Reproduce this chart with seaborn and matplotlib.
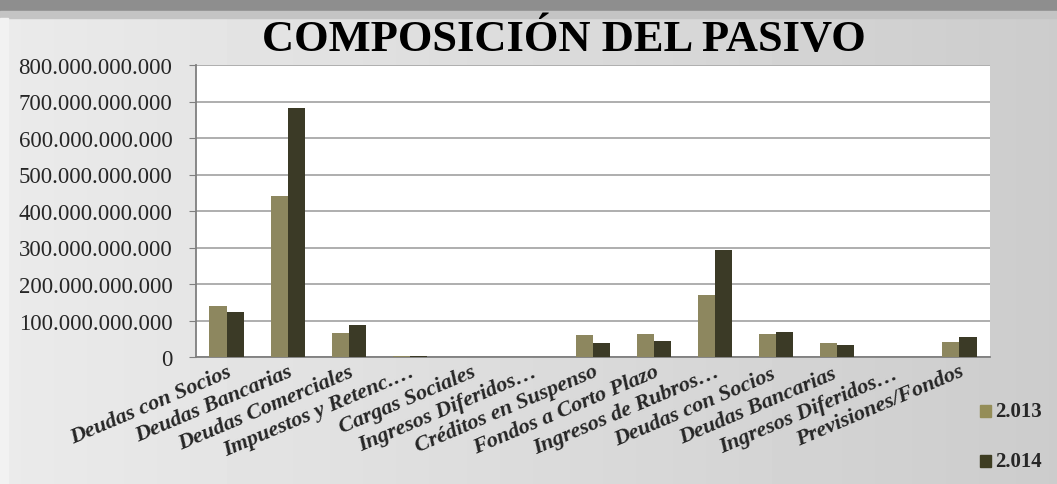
import numpy as np
import pandas as pd
import matplotlib.pyplot as plt
import seaborn as sns
from matplotlib.ticker import FuncFormatter
from matplotlib.patches import Rectangle

categorias = ["Deudas con Socios", "Deudas Bancarias", "Deudas Comerciales",
              "Impuestos y Retenc.…", "Cargas Sociales", "Ingresos Diferidos…",
              "Créditos en Suspenso", "Fondos a Corto Plazo", "Ingresos de Rubros…",
              "Deudas con Socios ", "Deudas Bancarias ", "Ingresos Diferidos… ",
              "Previsiones/Fondos"]
valores_2013 = [140e9, 442e9, 66e9, 2e9, 0, 0, 60e9, 63e9, 170e9, 62e9, 38e9, 1e9, 42e9]
valores_2014 = [124e9, 682e9, 88e9, 2e9, 0, 0, 37e9, 45e9, 294e9, 69e9, 34e9, 0, 56e9]
series = ["2.013", "2.014"]
colores = ["#948d58", "#3e3d22"]

df = pd.DataFrame({
    "categoria": categorias * 2,
    "valor": valores_2013 + valores_2014,
    "serie": [series[0]] * len(categorias) + [series[1]] * len(categorias),
})

sns.set_style("white")
plt.rcParams["font.family"] = ["Liberation Serif", "DejaVu Serif"]

fig = plt.figure(figsize=(10.57, 4.85), dpi=100)
fig.patch.set_facecolor("#d6d6d6")

# fondo con degradado
bg = fig.add_axes([0, 0, 1, 1], zorder=-10)
grad = np.tile(np.linspace(0.92, 0.80, 256), (32, 1))
bg.imshow(grad, cmap="gray", vmin=0, vmax=1, aspect="auto", extent=[0, 1, 0, 1])
bg.add_patch(Rectangle((0, 0.976), 1, 0.024, color="#8e8e8e", transform=bg.transAxes))
bg.add_patch(Rectangle((0, 0.960), 1, 0.016, color="#c4c4c4", transform=bg.transAxes))
bg.add_patch(Rectangle((0, 0), 0.008, 0.960, color="#f2f2f2", transform=bg.transAxes))
bg.set_axis_off()

ax = fig.add_axes([196 / 1057, 1 - 358 / 485, (990 - 196) / 1057, (358 - 66) / 485])
sns.barplot(data=df, x="categoria", y="valor", hue="serie", palette=colores,
            width=0.56, ax=ax, legend=False, edgecolor="none", zorder=3)

ax.set_ylim(0, 800e9)
ax.set_yticks(np.arange(0, 801e9, 100e9))
ax.yaxis.set_major_formatter(FuncFormatter(lambda v, p: f"{v:,.0f}".replace(",", ".")))
ax.set_facecolor("white")
ax.grid(axis="y", color="#a8a8a8", linewidth=1.3, zorder=0)
for s in ["top", "right"]:
    ax.spines[s].set_visible(False)
for s in ["left", "bottom"]:
    ax.spines[s].set_color("#7f7f7f")
    ax.spines[s].set_linewidth(1.3)
ax.set_xticks(np.arange(-0.5, len(categorias), 1), minor=True)
ax.tick_params(axis="x", which="minor", length=5, color="#7f7f7f", width=1)
ax.tick_params(axis="x", which="major", length=0, pad=3)
ax.tick_params(axis="y", length=5, color="#7f7f7f", left=True, labelsize=16.5, pad=12)
ax.set_xlabel("")
ax.set_ylabel("")
for lbl in ax.get_xticklabels():
    lbl.set_rotation(23)
    lbl.set_ha("right")
    lbl.set_rotation_mode("anchor")
    lbl.set_fontsize(16)
    lbl.set_fontweight("bold")
    lbl.set_fontstyle("italic")

fig.text(0.533, 0.918, "COMPOSICIÓN DEL PASIVO", ha="center", va="center",
         fontsize=32, fontweight="bold", color="black")

# leyenda
for i, (s, c) in enumerate(zip(series, colores)):
    y = 1 - (412 + i * 50) / 485
    fig.patches.append(Rectangle((980 / 1057, y - 0.013), 11 / 1057, 0.026,
                                 color=c, transform=fig.transFigure, figure=fig))
    fig.text(995 / 1057, y, s, ha="left", va="center", fontsize=15, fontweight="bold")

fig.savefig("out.png", dpi=100, facecolor=fig.get_facecolor())
